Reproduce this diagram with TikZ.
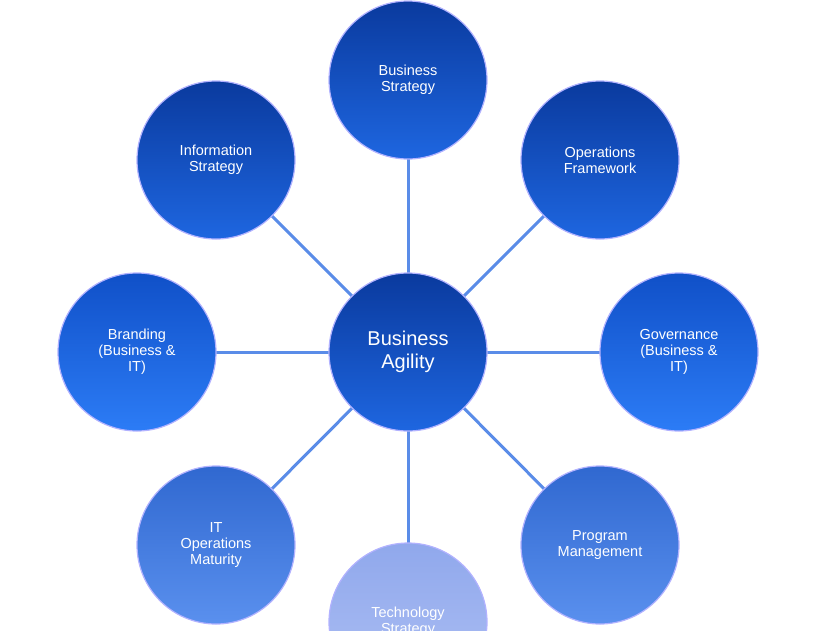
\documentclass[tikz,border=0pt]{standalone}
\usepackage{fontspec}
\setmainfont{Liberation Sans}
\begin{document}
\begin{tikzpicture}[x=1pt,y=-1pt,
 ball/.style={circle,minimum size=158pt,inner sep=0pt,align=center,text=white,font=\fontsize{14.5}{16}\selectfont,draw=white!70!blue,line width=1.2pt},
 dk/.style 2 args={ball,top color=#1,bottom color=#2}]
\useasboundingbox (0,0) rectangle (816,630);
\definecolor{a1}{HTML}{0A3A9E}\definecolor{b1}{HTML}{1E66E0}
\definecolor{a2}{HTML}{1050C8}\definecolor{b2}{HTML}{2C7CF6}
\definecolor{a3}{HTML}{3068D0}\definecolor{b3}{HTML}{5A90EE}
\definecolor{a4}{HTML}{90A8EC}\definecolor{b4}{HTML}{AEC0F4}
\definecolor{ln}{HTML}{5A8CE8}
\coordinate (c) at (408,352);
\foreach \p in {(408,80),(216,160),(600,160),(137,352),(679,352),(216,545),(600,545),(408,622)}
  \draw[ln,line width=3pt] (c) -- \p;
\node[dk={a1}{b1}] (bs) at (408,80) {Business\\Strategy};
\node[dk={a1}{b1}] (is) at (216,160) {Information\\Strategy};
\node[dk={a1}{b1}] (of) at (600,160) {Operations\\Framework};
\node[dk={a2}{b2}] (br) at (137,352) {Branding\\(Business \&\\IT)};
\node[dk={a2}{b2}] (gv) at (679,352) {Governance\\(Business \&\\IT)};
\node[dk={a3}{b3}] (it) at (216,545) {IT\\Operations\\Maturity};
\node[dk={a3}{b3}] (pm) at (600,545) {Program\\Management};
\node[dk={a4}{b4}] (ts) at (408,622) {Technology\\Strategy};
\node[dk={a1}{b1},font=\fontsize{20}{23}\selectfont] (ba) at (c) {Business\\Agility};
\end{tikzpicture}
\end{document}
